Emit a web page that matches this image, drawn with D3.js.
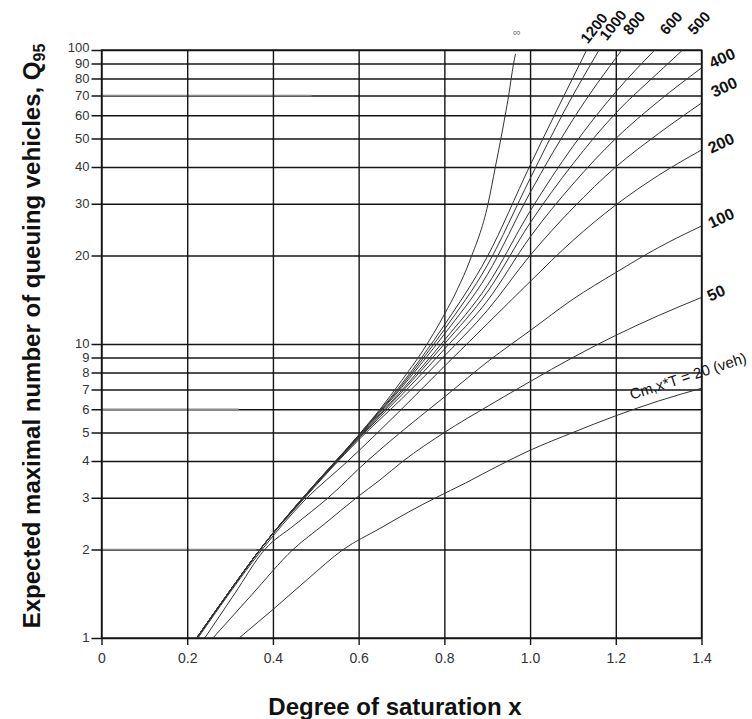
<!DOCTYPE html>
<html>
<head>
<meta charset="utf-8">
<script src="https://cdn.jsdelivr.net/npm/d3@7"></script>
<style>
  body { margin: 0; background: #fff; }
  svg { display: block; font-family: "Liberation Sans", Arial, sans-serif; }
</style>
</head>
<body>
<div id="chart"></div>
<script>
// ------------------------------ DATA ------------------------------
var xTicks = [0, 0.2, 0.4, 0.6, 0.8, 1.0, 1.2, 1.4],
    xTickLabels = ["0", "0.2", "0.4", "0.6", "0.8", "1.0", "1.2", "1.4"],
    yTicks = [1, 2, 3, 4, 5, 6, 7, 8, 9, 10, 20, 30, 40, 50, 60, 70, 80, 90, 100];

// points: [degree of saturation x, Q95]
var q20 = [[0.321,1],[0.4,1.25],[0.48,1.58],[0.564,2],[0.65,2.36],[0.72,2.7],[0.78,3.0],[0.85,3.37],[0.906,3.72],[1.0,4.35],[1.1,5.0],[1.2,5.7],[1.3,6.4],[1.4,7.07]];
var q50 = [[0.26,1],[0.35,1.4],[0.447,2],[0.52,2.44],[0.595,3],[0.65,3.45],[0.704,4],[0.8,5.0],[0.906,6.2],[1.0,7.45],[1.1,9.0],[1.2,10.7],[1.3,12.5],[1.4,14.4]];
var q100 = [[0.241,1],[0.31,1.41],[0.381,2],[0.45,2.42],[0.529,3],[0.62,4],[0.696,4.98],[0.8,6.6],[0.906,8.82],[1.0,11.1],[1.1,14.2],[1.2,17.5],[1.3,21.3],[1.4,25.2]];
var q200 = [[0.225,1],[0.3,1.43],[0.37,1.96],[0.475,2.95],[0.575,4],[0.7,6.0],[0.8,8.4],[0.9,11.7],[1.0,16.3],[1.1,22.5],[1.2,29.7],[1.3,37.5],[1.4,45.7]];
var q300 = [[0.222,1],[0.3,1.45],[0.37,2],[0.47,2.95],[0.6,4.72],[0.7,6.5],[0.8,9.1],[0.9,13.0],[1.0,20],[1.1,29],[1.2,40],[1.3,52],[1.4,66]];
var q400 = [[0.222,1],[0.3,1.45],[0.37,2],[0.47,2.97],[0.6,4.77],[0.7,6.7],[0.8,9.6],[0.9,14.0],[1.0,23.1],[1.1,35],[1.2,50],[1.3,67],[1.4,86.9]];
var q500 = [[0.222,1],[0.3,1.45],[0.37,2],[0.47,2.98],[0.6,4.8],[0.7,6.85],[0.8,10.0],[0.9,15.0],[1.0,25.8],[1.1,41],[1.2,61],[1.3,84],[1.356,100]];
var q600 = [[0.222,1],[0.3,1.45],[0.37,2],[0.47,2.99],[0.6,4.83],[0.7,6.95],[0.8,10.3],[0.9,15.8],[1.0,28.3],[1.1,47],[1.2,72],[1.291,100]];
var q800 = [[0.222,1],[0.3,1.45],[0.37,2],[0.47,3],[0.6,4.86],[0.7,7.1],[0.8,10.8],[0.9,17.2],[1.0,32.7],[1.1,58],[1.214,100]];
var q1000 = [[0.222,1],[0.3,1.45],[0.37,2],[0.47,3],[0.6,4.88],[0.7,7.2],[0.8,11.2],[0.9,18.5],[1.0,36.5],[1.08,62],[1.161,100]];
var q1200 = [[0.222,1],[0.3,1.45],[0.37,2],[0.47,3],[0.6,4.9],[0.7,7.3],[0.8,11.6],[0.9,19.8],[1.0,40.5],[1.132,100]];
var qInf = [[0.222,1],[0.3,1.45],[0.37,2],[0.47,3],[0.55,4],[0.605,5],[0.65,6],[0.7,7.5],[0.75,9.5],[0.8,12.6],[0.83,15.3],[0.86,19.3],[0.902,30],[0.919,40],[0.932,50],[0.942,60],[0.95,70],[0.956,80],[0.961,89],[0.966,97]];

var curveNames = ["20", "50", "100", "200", "300", "400", "500", "600", "800", "1000", "1200", "\u221e"],
    curveData = [q20, q50, q100, q200, q300, q400, q500, q600, q800, q1000, q1200, qInf];

// grid lines whose left part is printed lighter: [Q value, x where the dark part starts]
var fadedGrid = [[70, 0.49], [6, 0.32], [2, 0.36]];

// ------------------------------ LAYOUT ------------------------------
var width = 752, height = 719,
    plotLeft = 101.5, plotRight = 701.5,
    plotTop = 50, plotBottom = 638,
    plotWidth = plotRight - plotLeft,
    plotHeight = plotBottom - plotTop;

var gridColor = "#151515", curveColor = "#333", textColor = "#333";

// curve labels: centre, rotation, font size
var labelLayout = {
    "\u221e": {x: 517, y: 32, r: 0, s: 11},
    "1200": {x: 594, y: 28, r: -52, s: 15},
    "1000": {x: 613, y: 25, r: -52, s: 15},
    "800": {x: 634, y: 23, r: -50, s: 15},
    "600": {x: 671, y: 23, r: -48, s: 15},
    "500": {x: 699, y: 23, r: -48, s: 15},
    "400": {x: 722, y: 58, r: -25, s: 16},
    "300": {x: 724, y: 87, r: -25, s: 16},
    "200": {x: 721, y: 143, r: -25, s: 16},
    "100": {x: 721, y: 218, r: -25, s: 16},
    "50": {x: 716, y: 293, r: -25, s: 16},
    "20": {x: 688, y: 376, r: -18, s: 15, text: "Cm,x*T = 20 (veh)"}
};

// ------------------------------ MAIN ------------------------------
var svg = d3.select("#chart").append("svg")
    .attr("width", width)
    .attr("height", height);

var x = d3.scaleLinear().domain([0, 1.4]).range([plotLeft, plotRight]);
var y = d3.scaleLog().domain([1, 100]).range([plotBottom, plotTop]);

// horizontal grid + y tick labels (ticks run 10px left of the axis)
var yAxis = d3.axisLeft(y)
    .tickValues(yTicks)
    .tickFormat(d3.format("d"))
    .tickSize(-(plotWidth + 10))
    .tickPadding(2);

svg.append("g")
    .attr("transform", "translate(" + (plotLeft - 10) + ",0)")
    .call(yAxis)
    .call(function (g) { g.select(".domain").remove(); })
    .call(function (g) {
        g.selectAll("line").attr("stroke", gridColor).attr("stroke-width", 1.4);
        g.selectAll("text").attr("fill", textColor).attr("font-size", 13)
            .attr("font-family", "Liberation Sans, Arial, sans-serif")
            .attr("dy", function (d) { return d === 100 ? "0.1em" : "0.3em"; });
    });

// lighter left parts of some grid lines (as printed)
svg.append("g")
    .selectAll("line")
    .data(fadedGrid)
    .enter()
    .append("line")
    .attr("x1", plotLeft + 1)
    .attr("x2", function (d) { return x(d[1]); })
    .attr("y1", function (d) { return y(d[0]); })
    .attr("y2", function (d) { return y(d[0]); })
    .attr("stroke", "#8a8a8a")
    .attr("stroke-width", 1.6);

// vertical grid + x tick labels (ticks run 7px below the axis)
var xAxis = d3.axisBottom(x)
    .tickValues(xTicks)
    .tickFormat(function (d, i) { return xTickLabels[i]; })
    .tickSize(-(plotHeight + 7))
    .tickPadding(8);

svg.append("g")
    .attr("transform", "translate(0," + (plotBottom + 7) + ")")
    .call(xAxis)
    .call(function (g) { g.select(".domain").remove(); })
    .call(function (g) {
        g.selectAll("line").attr("stroke", gridColor).attr("stroke-width", 1.4);
        g.selectAll("text").attr("fill", textColor).attr("font-size", 14)
            .attr("font-family", "Liberation Sans, Arial, sans-serif");
    });

// frame
svg.append("rect")
    .attr("x", plotLeft).attr("y", plotTop)
    .attr("width", plotWidth).attr("height", plotHeight)
    .attr("fill", "none").attr("stroke", gridColor).attr("stroke-width", 1.4);

// curves
svg.append("clipPath").attr("id", "plot-clip")
    .append("rect")
    .attr("x", plotLeft).attr("y", plotTop)
    .attr("width", plotWidth).attr("height", plotHeight);

var line = d3.line()
    .x(function (d) { return x(d[0]); })
    .y(function (d) { return y(d[1]); })
    .curve(d3.curveMonotoneX);

svg.append("g")
    .attr("clip-path", "url(#plot-clip)")
    .selectAll("path")
    .data(curveData)
    .enter()
    .append("path")
    .attr("d", line)
    .attr("fill", "none")
    .attr("stroke", curveColor)
    .attr("stroke-width", 1);

// curve labels
svg.append("g")
    .selectAll("text")
    .data(curveNames)
    .enter()
    .append("text")
    .attr("transform", function (d) {
        var p = labelLayout[d];
        return "translate(" + p.x + "," + p.y + ") rotate(" + p.r + ")";
    })
    .attr("text-anchor", "middle")
    .attr("dy", "0.35em")
    .attr("font-size", function (d) { return labelLayout[d].s; })
    .attr("font-weight", function (d) { return d === "\u221e" || d === "20" ? "normal" : "bold"; })
    .attr("fill", function (d) { return d === "\u221e" ? "#777" : "#111"; })
    .text(function (d) { return labelLayout[d].text || d; });

// ------------------------------ AXIS TITLES ------------------------------
svg.append("text")
    .attr("x", 395)
    .attr("y", 715)
    .attr("text-anchor", "middle")
    .attr("font-size", 24)
    .attr("font-weight", "bold")
    .attr("fill", "#111")
    .text("Degree of saturation x");

var yTitle = svg.append("text")
    .attr("transform", "translate(40,336) rotate(-90)")
    .attr("text-anchor", "middle")
    .attr("font-size", 24)
    .attr("font-weight", "bold")
    .attr("fill", "#111");
yTitle.append("tspan").text("Expected maximal number of queuing vehicles, Q");
yTitle.append("tspan").attr("font-size", 16).attr("dy", "0.3em").text("95");
</script>
</body>
</html>
